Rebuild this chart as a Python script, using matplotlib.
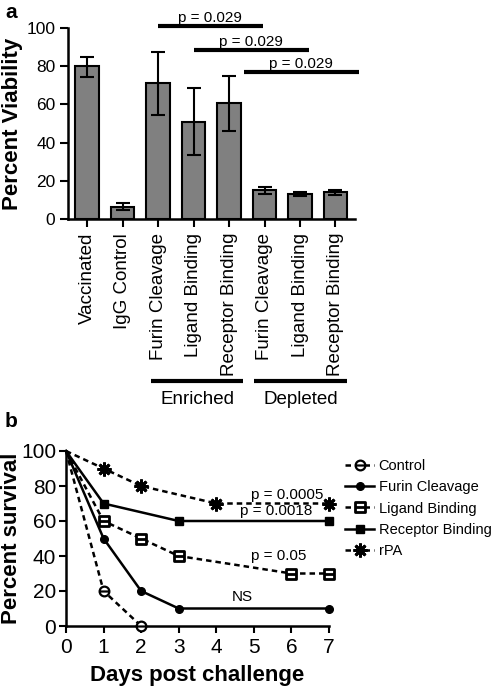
import matplotlib
matplotlib.use("Agg")
import matplotlib.pyplot as plt
import matplotlib.transforms as mtrans
from matplotlib.path import Path
import numpy as np

plt.rcParams['font.family'] = ['Liberation Sans', 'DejaVu Sans']

# ---- Panel a data ----
categories = ["Vaccinated", "IgG Control", "Furin Cleavage", "Ligand Binding",
              "Receptor Binding", "Furin Cleavage", "Ligand Binding", "Receptor Binding"]
viability = [80, 6.5, 71, 51, 60.5, 15, 13.2, 14]
err_low = [74.5, 4.7, 54.2, 33.6, 46.2, 12.9, 12.2, 12.5]
err_high = [85, 8.3, 87.2, 68.4, 74.8, 16.7, 14.2, 15]
sig_pairs = [(2, 4.95, 101, "p = 0.029"), (3, 6.25, 88.3, "p = 0.029"), (4.42, 7.66, 76.9, "p = 0.029")]
groups = [("Enriched", 1.8, 4.4), ("Depleted", 4.7, 7.32)]
a_yticks = [0, 20, 40, 60, 80, 100]

# ---- Panel b data ----
days_ticks = [0, 1, 2, 3, 4, 5, 6, 7]
surv_yticks = [0, 20, 40, 60, 80, 100]
control_days = [0, 1, 2]
control_surv = [100, 20, 0]
furin_days = [0, 1, 2, 3, 7]
furin_surv = [100, 50, 20, 10, 10]
ligand_days = [0, 1, 2, 3, 6, 7]
ligand_surv = [100, 60, 50, 40, 30, 30]
receptor_days = [0, 1, 3, 7]
receptor_surv = [100, 70, 60, 60]
rpa_days = [0, 1, 2, 4, 7]
rpa_surv = [100, 90, 80, 70, 70]
annotations = [(5.9, 71.0, "p = 0.0005"), (5.6, 62.0, "p = 0.0018"), (5.66, 36.0, "p = 0.05"), (4.68, 12.5, "NS")]

W, H = 495, 692
fig = plt.figure(figsize=(W / 100, H / 100), dpi=100)

def fx(px):
    return px / W

def fy(py):
    return 1 - py / H

# ================= Panel a =================
axa = fig.add_axes([fx(68), fy(219), fx(355) - fx(68), fy(28) - fy(219)])
x = np.arange(len(categories))
vals = np.array(viability)
yerr = np.vstack([vals - np.array(err_low), np.array(err_high) - vals])
axa.bar(x, vals, width=0.66, color='#808080', edgecolor='black', linewidth=1.5, zorder=2)
axa.errorbar(x, vals, yerr=yerr, fmt='none', ecolor='black', elinewidth=1.5,
             capsize=5, capthick=1.5, zorder=3)
axa.set_xlim(-0.54, 7.55)
axa.set_ylim(0, 100)
axa.set_yticks(a_yticks)
axa.set_xticks(x)
axa.set_xticklabels(categories, rotation=90, fontsize=13.5)
axa.tick_params(axis='y', labelsize=12.5, width=1.5, length=6, direction='out', pad=3)
axa.tick_params(axis='x', width=1.5, length=6, direction='out', pad=4)
for s in ['top', 'right']:
    axa.spines[s].set_visible(False)
for s in ['left', 'bottom']:
    axa.spines[s].set_linewidth(1.8)
axa.set_ylabel("Percent Viability", fontsize=16, fontweight='bold')
axa.yaxis.set_label_coords((23 - 68) / 287, 0.5)

for x0, x1, yv, label in sig_pairs:
    axa.plot([x0, x1], [yv, yv], color='black', lw=3, clip_on=False, solid_capstyle='butt')
    axa.text((x0 + x1) / 2, yv + 0.8, label, ha='center', va='bottom', fontsize=11)

blend = mtrans.blended_transform_factory(axa.transData, axa.transAxes)
for name, x0, x1 in groups:
    axa.plot([x0, x1], [-0.848, -0.848], transform=blend, color='black', lw=3,
             clip_on=False, solid_capstyle='butt')
    axa.text((x0 + x1) / 2, -0.9, name, transform=blend, ha='center', va='top', fontsize=13.5)

fig.text(fx(11), fy(12), "a", fontsize=15, fontweight='bold', ha='center', va='center')

# ================= Panel b =================
axb = fig.add_axes([fx(66), fy(626), fx(329) - fx(66), fy(451) - fy(626)])

circ_line = Path.make_compound_path(Path.unit_circle(),
                                    Path([[-1, 0], [1, 0]], [Path.MOVETO, Path.LINETO]))
sq = Path([[-1, -1], [1, -1], [1, 1], [-1, 1], [-1, -1]],
          [Path.MOVETO, Path.LINETO, Path.LINETO, Path.LINETO, Path.CLOSEPOLY])
sq_line = Path.make_compound_path(sq, Path([[-1, 0], [1, 0]], [Path.MOVETO, Path.LINETO]))

dash = (0, (2.2, 1.6))
lw = 1.8
axb.plot(control_days, control_surv, linestyle=dash, color='black', lw=lw,
         marker=circ_line, markersize=7, markerfacecolor='white', markeredgecolor='black',
         markeredgewidth=1.6, markevery=list(range(1, len(control_days))), label='Control',
         clip_on=False, zorder=3)
axb.plot(furin_days, furin_surv, linestyle='-', color='black', lw=lw,
         marker='o', markersize=5.5, markevery=list(range(1, len(furin_days))),
         label='Furin Cleavage', clip_on=False, zorder=3)
axb.plot(ligand_days, ligand_surv, linestyle=dash, color='black', lw=lw,
         marker=sq_line, markersize=6.5, markerfacecolor='white', markeredgecolor='black',
         markeredgewidth=2.0, markevery=list(range(1, len(ligand_days))),
         label='Ligand Binding', clip_on=False, zorder=3)
axb.plot(receptor_days, receptor_surv, linestyle='-', color='black', lw=lw,
         marker='s', markersize=5.5, markevery=list(range(1, len(receptor_days))),
         label='Receptor Binding', clip_on=False, zorder=3)
axb.plot(rpa_days, rpa_surv, linestyle=dash, color='black', lw=lw,
         marker=(8, 2, 0), markersize=10, markeredgewidth=2.0,
         markevery=list(range(1, len(rpa_days))), label='rPA', clip_on=False, zorder=3)

for xv, yv, t in annotations:
    axb.text(xv, yv, t, ha='center', va='bottom', fontsize=11)

axb.set_xlim(0, 7)
axb.set_ylim(0, 100)
axb.set_xticks(days_ticks)
axb.set_yticks(surv_yticks)
axb.tick_params(axis='both', labelsize=15, width=1.5, length=5, direction='out')
axb.tick_params(axis='y', pad=2)
for s in ['top', 'right']:
    axb.spines[s].set_visible(False)
for s in ['left', 'bottom']:
    axb.spines[s].set_linewidth(1.8)
axb.set_xlabel("Days post challenge", fontsize=16, fontweight='bold', labelpad=6)
axb.set_ylabel("Percent survival", fontsize=16, fontweight='bold')
axb.yaxis.set_label_coords((22 - 66) / 263, 0.5)

fig.legend(loc='upper left', bbox_to_anchor=(fx(345), fy(459)), frameon=False,
           fontsize=10.5, handlelength=2.0, handletextpad=0.3, labelspacing=0.5,
           borderpad=0, borderaxespad=0)

fig.text(fx(11), fy(421), "b", fontsize=15, fontweight='bold', ha='center', va='center')

fig.savefig("out.png", dpi=100)
